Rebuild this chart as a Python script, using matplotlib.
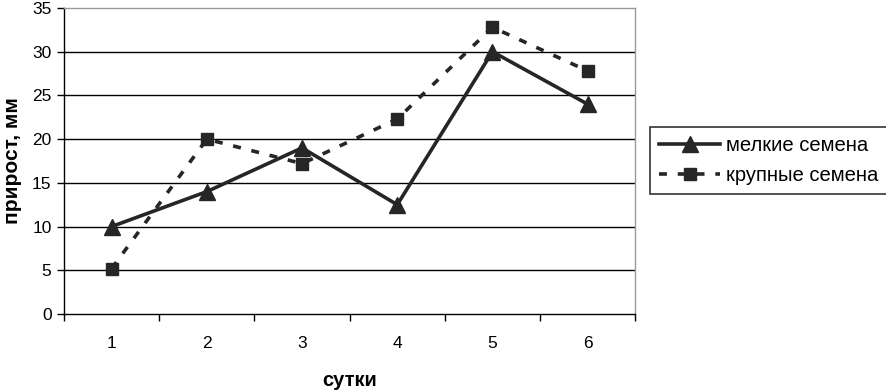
import numpy as np
import matplotlib
matplotlib.use("Agg")
from matplotlib import pyplot as plt

plt.rcParams['font.family'] = ['Liberation Sans', 'DejaVu Sans']

days = [1, 2, 3, 4, 5, 6]
small_seeds = [10, 14, 19, 12.5, 30, 24]
large_seeds = [5.2, 20, 17.2, 22.3, 32.8, 27.8]
y_ticks = [0, 5, 10, 15, 20, 25, 30, 35]

fig = plt.figure(figsize=(8.87, 3.91), dpi=100)
ax = fig.add_axes([0.0722, 0.197, 0.644, 0.7825])

x = np.arange(len(days)) + 0.5
line_color = '#262626'
ax.plot(x, small_seeds, color=line_color, lw=2.6, marker='^', ms=12,
        label='мелкие семена', zorder=4)
ax.plot(x, large_seeds, color=line_color, lw=2.6, ls=(0, (2.2, 3.0)), marker='s', ms=8,
        label='крупные семена', zorder=3)

ax.set_xlim(0, len(days))
ax.set_ylim(0, 35)
ax.set_yticks(y_ticks)
ax.set_xticks(np.arange(len(days) + 1))
ax.set_xticklabels([])
ax.set_xticks(x, minor=True)
ax.set_xticklabels([str(d) for d in days], minor=True)
ax.tick_params(axis='x', which='minor', length=0, pad=16, labelsize=12.5)
ax.tick_params(axis='x', which='major', length=5, width=1, direction='out')
ax.tick_params(axis='y', length=5, width=1, direction='out', labelsize=12.5, pad=4)

for yv in y_ticks[1:-1]:
    ax.axhline(yv, color='black', lw=1, zorder=1)

for s in ['top', 'right']:
    ax.spines[s].set_color('#999999')
    ax.spines[s].set_linewidth(1)
for s in ['left', 'bottom']:
    ax.spines[s].set_color('black')
    ax.spines[s].set_linewidth(1)

ax.set_ylabel('прирост, мм', fontsize=15, fontweight='bold', labelpad=7)
ax.set_xlabel('сутки', fontsize=14.5, fontweight='bold', labelpad=14)

leg = fig.legend(loc='upper left', bbox_to_anchor=(650 / 887, 1 - 127 / 391),
                 frameon=True, fancybox=False, edgecolor='black', fontsize=14.6,
                 handlelength=3.0, borderpad=0.45, labelspacing=0.55,
                 handletextpad=0.3, borderaxespad=0)
leg.get_frame().set_linewidth(1.2)

fig.savefig('out.png', dpi=100)
